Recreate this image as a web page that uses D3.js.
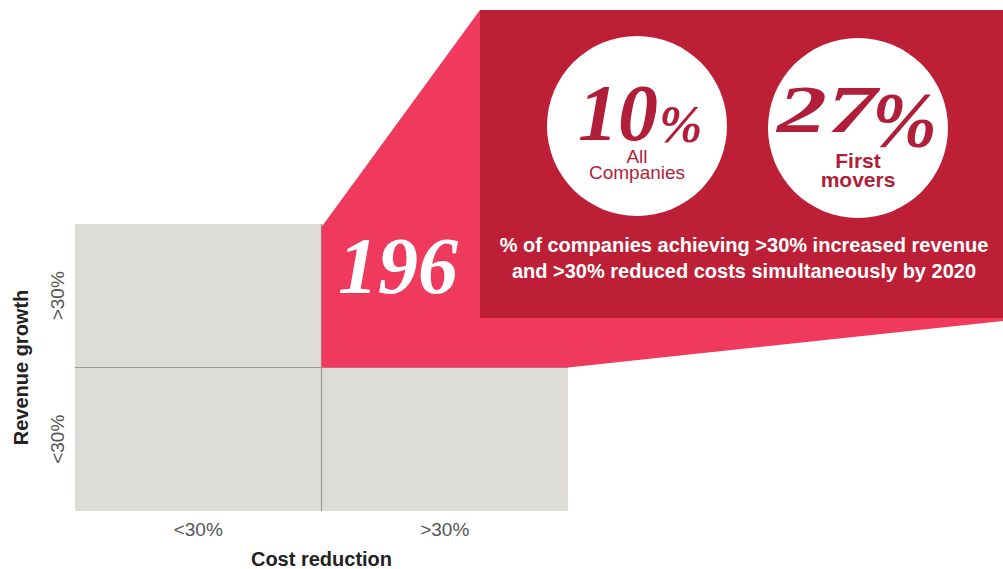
<!DOCTYPE html>
<html>
<head>
<meta charset="utf-8">
<script src="https://cdn.jsdelivr.net/npm/d3@7"></script>
<style>
  html, body { margin: 0; padding: 0; background: #fff; }
  svg { display: block; }
</style>
</head>
<body>
<svg id="chart" width="1003" height="569"></svg>
<script>
// 2x2 matrix: cost reduction (columns) vs revenue growth (rows)
const costCategories = ["<30%", ">30%"];
const revenueCategories = [">30%", "<30%"];
const highlightCell = { cost: ">30%", revenue: ">30%" };
const highlightCount = [196];

// Share of companies hitting both targets
const shareLabels = ["All Companies", "First movers"];
const shareValues = [10, 27];
const captionLines = [
  "% of companies achieving >30% increased revenue",
  "and >30% reduced costs simultaneously by 2020"
];

const W = 1003, H = 569;
const svg = d3.select("#chart");

const x = d3.scaleBand().domain(costCategories).range([75, 568]);
const y = d3.scaleBand().domain(revenueCategories).range([224, 511]);

const grey = "#dddcd8", pink = "#ef3a5e", darkRed = "#bd1f36", ink = "#b01e39";
const sans = "'Liberation Sans', Arial, sans-serif";
const serif = "'Liberation Serif', 'Times New Roman', serif";

// quadrant cells
const cells = [];
revenueCategories.forEach(r => costCategories.forEach(c => cells.push({ cost: c, revenue: r })));
svg.append("g").selectAll("rect").data(cells).join("rect")
  .attr("x", d => x(d.cost)).attr("y", d => y(d.revenue))
  .attr("width", x.bandwidth()).attr("height", y.bandwidth())
  .attr("fill", grey);

// divider lines
const midX = x(costCategories[1]), midY = y(revenueCategories[1]);
svg.append("line").attr("x1", x.range()[0]).attr("x2", x.range()[1])
  .attr("y1", midY).attr("y2", midY).attr("stroke", "#9a9a98").attr("stroke-width", 1.2);
svg.append("line").attr("x1", midX).attr("x2", midX)
  .attr("y1", y.range()[0]).attr("y2", y.range()[1]).attr("stroke", "#9a9a98").attr("stroke-width", 1.2);

// callout panel geometry, anchored on the highlighted cell
const cx0 = x(highlightCell.cost), cx1 = cx0 + x.bandwidth();
const cy0 = y(highlightCell.revenue), cy1 = cy0 + y.bandwidth();
const panel = { x0: 480, y0: 10, x1: W, y1: 318 };

const callout = [
  [cx0, cy0 + 3], [panel.x0, panel.y0], [panel.x1, panel.y0],
  [panel.x1, panel.y1 + 3], [cx1, cy1], [cx0, cy1]
];
svg.append("path").attr("d", d3.line()(callout) + "Z").attr("fill", pink);

svg.append("rect").attr("x", panel.x0).attr("y", panel.y0)
  .attr("width", panel.x1 - panel.x0).attr("height", panel.y1 - panel.y0)
  .attr("fill", darkRed);

// count in highlighted cell
svg.append("text").attr("x", 398).attr("y", 293)
  .attr("text-anchor", "middle").attr("fill", "#fff")
  .style("font-family", serif).style("font-weight", "bold").style("font-style", "italic")
  .style("font-size", "80px").text(highlightCount[0]);

// share circles
const circleX = d3.scalePoint().domain(shareLabels).range([637, 858]);
const circleG = svg.append("g").selectAll("g").data(shareLabels).join("g")
  .attr("transform", (d, i) => `translate(${circleX(d)},${126 + i * 2})`);
circleG.append("circle").attr("r", 90).attr("fill", "#fff");

const bigNum = sel => sel.attr("fill", ink)
  .style("font-family", serif).style("font-weight", "bold").style("font-style", "italic");

// "10%"
const g0 = d3.select(circleG.nodes()[0]);
g0.append("text").attr("x", -59).attr("y", 14).call(bigNum)
  .style("font-size", "80px").text(shareValues[0]);
g0.append("text").attr("x", 22).attr("y", 16).call(bigNum)
  .style("font-size", "52px").text("%");
g0.append("text").attr("y", 37).attr("text-anchor", "middle").attr("fill", ink)
  .style("font-family", sans).style("font-size", "19px").text("All");
g0.append("text").attr("y", 53).attr("text-anchor", "middle").attr("fill", ink)
  .style("font-family", sans).style("font-size", "19px").text("Companies");

// "27%"
const g1 = d3.select(circleG.nodes()[1]);
g1.append("text").attr("x", -81).attr("y", 4).call(bigNum)
  .attr("textLength", 100).attr("lengthAdjust", "spacingAndGlyphs")
  .style("font-size", "68px").text(shareValues[1]);
g1.append("text").attr("x", 14).attr("y", 18).call(bigNum)
  .style("font-size", "78px").text("%");
g1.append("text").attr("y", 40).attr("text-anchor", "middle").attr("fill", ink)
  .style("font-family", sans).style("font-weight", "bold").style("font-size", "21px").text("First");
g1.append("text").attr("y", 59).attr("text-anchor", "middle").attr("fill", ink)
  .style("font-family", sans).style("font-weight", "bold").style("font-size", "21px").text("movers");

// caption
svg.append("g").selectAll("text").data(captionLines).join("text")
  .attr("x", 744).attr("y", (d, i) => 252 + i * 26)
  .attr("text-anchor", "middle").attr("fill", "#fff")
  .style("font-family", sans).style("font-weight", "bold").style("font-size", "20px")
  .text(d => d);

// axis labels
svg.append("g").selectAll("text").data(costCategories).join("text")
  .attr("x", d => x(d) + x.bandwidth() / 2).attr("y", 536)
  .attr("text-anchor", "middle").attr("fill", "#555")
  .style("font-family", sans).style("font-size", "19px").text(d => d);
svg.append("text").attr("x", midX).attr("y", 566).attr("text-anchor", "middle").attr("fill", "#222")
  .style("font-family", sans).style("font-weight", "bold").style("font-size", "20px").text("Cost reduction");

svg.append("g").selectAll("text").data(revenueCategories).join("text")
  .attr("transform", d => `translate(64,${y(d) + y.bandwidth() / 2}) rotate(-90)`)
  .attr("text-anchor", "middle").attr("fill", "#555")
  .style("font-family", sans).style("font-size", "19px").text(d => d);
svg.append("text").attr("transform", `translate(28,${(y.range()[0] + y.range()[1]) / 2}) rotate(-90)`)
  .attr("text-anchor", "middle").attr("fill", "#222")
  .style("font-family", sans).style("font-weight", "bold").style("font-size", "20px").text("Revenue growth");
</script>
</body>
</html>
